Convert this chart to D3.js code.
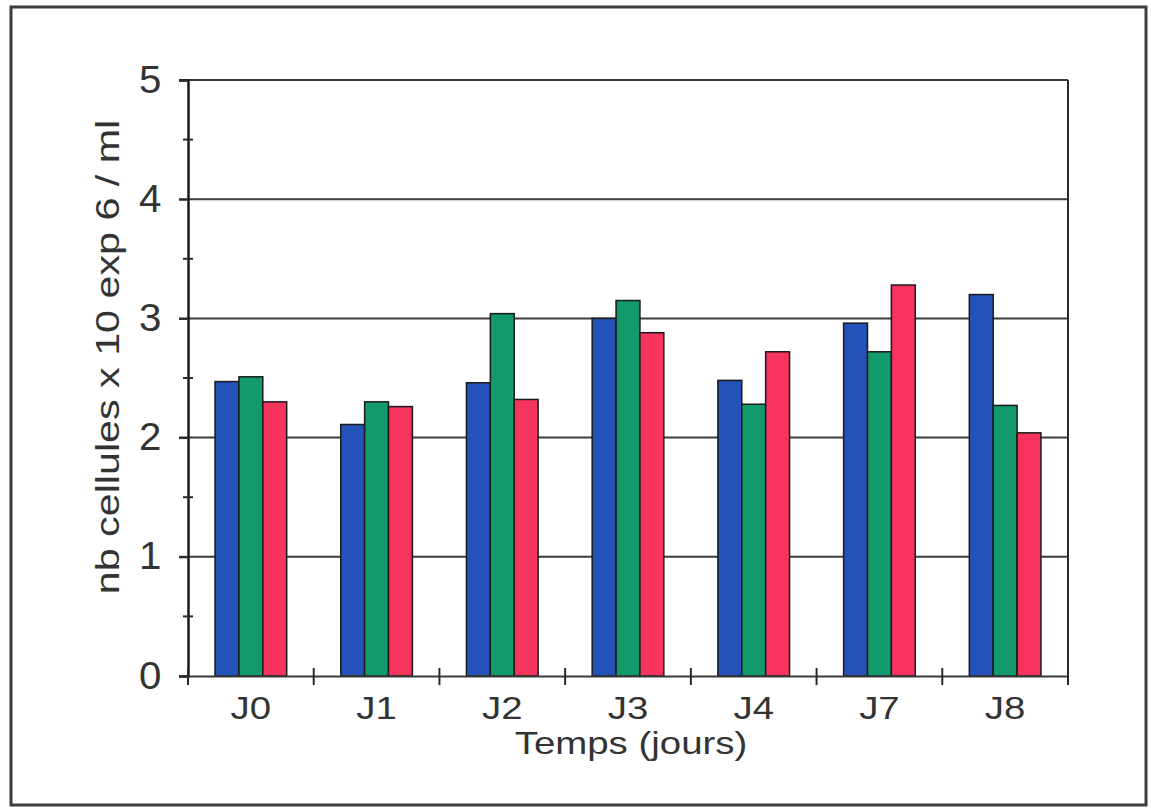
<!DOCTYPE html>
<html>
<head>
<meta charset="utf-8">
<script src="https://cdn.jsdelivr.net/npm/d3@7"></script>
<style>
  html, body { margin: 0; padding: 0; background: #fff; }
  svg { display: block; }
  text { font-family: "Liberation Sans", Arial, sans-serif; fill: #333; }
</style>
</head>
<body>
<svg id="chart" width="1151" height="810"></svg>
<script>
const categories = ["J0", "J1", "J2", "J3", "J4", "J7", "J8"];
const seriesNames = ["s1", "s2", "s3"];
const series1 = [2.47, 2.11, 2.46, 3.00, 2.48, 2.96, 3.20];
const series2 = [2.51, 2.30, 3.04, 3.15, 2.28, 2.72, 2.27];
const series3 = [2.30, 2.26, 2.32, 2.88, 2.72, 3.28, 2.04];
const seriesColors = ["#2452b8", "#139a6c", "#f6345e"];
const yTicks = [0, 1, 2, 3, 4, 5];
const yMinorTicks = [0.5, 1.5, 2.5, 3.5, 4.5];
const yLabel = "nb cellules x 10 exp 6 / ml";
const xLabel = "Temps (jours)";

const svg = d3.select("#chart");
const plot = { left: 188, right: 1068, top: 80, bottom: 676 };

// outer frame
svg.append("rect").attr("x", 11).attr("y", 7).attr("width", 1135).attr("height", 798)
  .attr("fill", "#fff").attr("stroke", "#3a3d40").attr("stroke-width", 3);

const x0 = d3.scaleBand().domain(categories).range([plot.left, plot.right])
  .paddingInner(0.43).paddingOuter(0.215);
const x1 = d3.scaleBand().domain(seriesNames).range([0, x0.bandwidth()]);
const y = d3.scaleLinear().domain([0, 5]).range([plot.bottom, plot.top]);

// gridlines
svg.append("g").selectAll("line").data(yTicks.filter(d => d > 0)).join("line")
  .attr("x1", plot.left - 9).attr("x2", plot.right)
  .attr("y1", d => y(d)).attr("y2", d => y(d))
  .attr("stroke", "#3c3c3c").attr("stroke-width", 2);

// right border of plot
svg.append("line").attr("x1", plot.right).attr("x2", plot.right)
  .attr("y1", plot.top).attr("y2", plot.bottom + 9)
  .attr("stroke", "#2a2a2a").attr("stroke-width", 2);

// bars
const data = categories.map((c, i) => ({ cat: c, vals: [series1[i], series2[i], series3[i]] }));
const groups = svg.append("g").selectAll("g").data(data).join("g")
  .attr("transform", d => `translate(${x0(d.cat)},0)`);
groups.selectAll("rect").data(d => d.vals.map((v, k) => ({ k, v }))).join("rect")
  .attr("x", d => x1(seriesNames[d.k]))
  .attr("width", x1.bandwidth())
  .attr("y", d => y(d.v))
  .attr("height", d => y(0) - y(d.v))
  .attr("fill", d => seriesColors[d.k])
  .attr("stroke", "#1a1a1a").attr("stroke-width", 1.5);

// y axis
const yAxis = d3.axisLeft(y).tickValues(yTicks).tickSize(9).tickPadding(16).tickFormat(d3.format("d"));
const gy = svg.append("g").attr("transform", `translate(${plot.left},0)`).call(yAxis);
gy.select(".domain").attr("stroke", "#1a1a1a").attr("stroke-width", 2.5);
gy.selectAll(".tick line").attr("stroke", "#2a2a2a").attr("stroke-width", 2);
gy.selectAll(".tick text").attr("font-size", 38).attr("fill", "#333")
  .attr("font-family", "'Liberation Sans', Arial, sans-serif")
  .attr("transform", "scale(1.06,1)");
// minor ticks
svg.append("g").selectAll("line").data(yMinorTicks).join("line")
  .attr("x1", plot.left - 5).attr("x2", plot.left + 5)
  .attr("y1", d => y(d)).attr("y2", d => y(d))
  .attr("stroke", "#2a2a2a").attr("stroke-width", 2);

// x axis
const gx = svg.append("g").attr("transform", `translate(0,${plot.bottom})`)
  .call(d3.axisBottom(x0).tickSize(0).tickPadding(20));
gx.select(".domain").attr("stroke", "#3a3a3a").attr("stroke-width", 2);
gx.selectAll(".tick text").attr("font-size", 32).attr("fill", "#333")
  .attr("font-family", "'Liberation Sans', Arial, sans-serif")
  .attr("transform", "scale(1.2,1)");
// category boundary ticks
const bounds = d3.range(categories.length + 1).map(i => plot.left + i * (plot.right - plot.left) / categories.length);
svg.append("g").selectAll("line").data(bounds).join("line")
  .attr("x1", d => d).attr("x2", d => d)
  .attr("y1", plot.bottom - 8).attr("y2", plot.bottom + 9)
  .attr("stroke", "#2a2a2a").attr("stroke-width", 2);

// axis titles
svg.append("text").attr("transform", `translate(${(plot.left + plot.right) / 2 + 3},754) scale(1.2,1)`)
  .attr("text-anchor", "middle").attr("font-size", 32).text(xLabel);
svg.append("text").attr("transform", `translate(119,357) rotate(-90) scale(1.25,1)`)
  .attr("text-anchor", "middle").attr("font-size", 33).text(yLabel);
</script>
</body>
</html>
